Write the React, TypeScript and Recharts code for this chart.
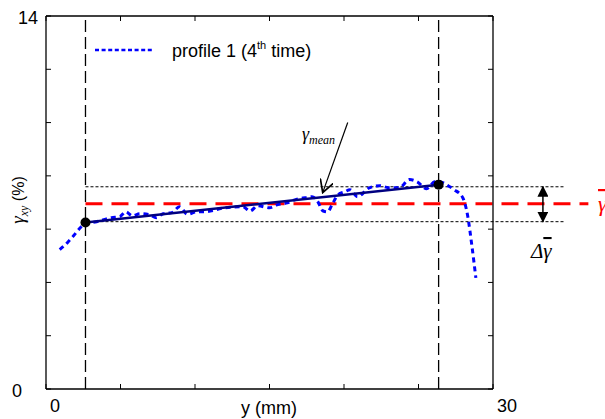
import React from 'react';
import { ComposedChart, Line, XAxis, YAxis, ReferenceLine, Customized } from 'recharts';

// ---- data ----
const profileX = [0.92, 1.45, 1.85, 2.3, 2.65, 3.4, 4.4, 4.95, 5.35, 5.8, 6.3, 6.96, 7.4, 7.85, 8.45, 8.95, 9.5, 10.1, 10.6, 12.0, 13.2, 13.7, 14.2, 15.0, 15.55, 16.2, 16.7, 17.4, 17.85, 18.2, 18.6, 18.9, 19.2, 19.6, 20.05, 20.4, 20.9, 21.7, 22.4, 23.05, 23.7, 24.4, 24.9, 25.55, 26.1, 26.4, 27.1, 27.4, 27.97, 28.3, 28.6, 28.85];
const profileY = [5.23, 5.5, 5.75, 6.05, 6.22, 6.28, 6.43, 6.47, 6.65, 6.5, 6.58, 6.54, 6.43, 6.58, 6.62, 6.84, 6.56, 6.65, 6.65, 6.8, 6.84, 6.68, 6.88, 6.8, 6.92, 6.99, 7.1, 7.18, 7.22, 7.07, 6.68, 6.65, 6.92, 7.29, 7.4, 7.48, 7.22, 7.55, 7.63, 7.55, 7.55, 7.86, 7.78, 7.52, 7.78, 7.78, 7.59, 7.48, 7.18, 6.5, 5.3, 4.17];
const meanX = [2.65, 26.35];
const meanY = [6.25, 7.67];
const xTicks = [0, 5, 10, 15, 20, 25, 30];
const yTicks = [0, 2, 4, 6, 8, 10, 12, 14];
const xTickLabels: Record<number, string> = { 0: '0', 30: '30' };
const yTickLabels: Record<number, string> = { 0: '0', 14: '14' };
const gammaBar = 6.95;
const bandY = [6.28, 7.59];
const bandEndX = 34.8;
const redEndX = 36.4;
const deltaArrowX = 33.35;
const meanArrowFrom = [20.25, 10.0];
const meanArrowTo = [18.57, 7.37];
const legendLabel = 'profile 1 (4';
const legendSup = 'th';
const legendTail = ' time)';

const profile = profileX.map((x, i) => ({ x, g: profileY[i] }));
const meanData = meanX.map((x, i) => ({ x, m: meanY[i] }));

const SANS = '"Liberation Sans", Arial, Helvetica, sans-serif';
const SERIF = '"Liberation Serif", "Times New Roman", serif';

const BottomTick = (p: any) => {
  const { x, y, payload } = p;
  const lbl = xTickLabels[payload.value];
  return (
    <g>
      <line x1={x} y1={y} x2={x} y2={y - 5} stroke="#000" strokeWidth={1} />
      {lbl && (
        <text x={x + 4} y={y + 23} fontSize={18} fontFamily={SANS} fill="#000" textAnchor="start">{lbl}</text>
      )}
    </g>
  );
};
const TopTick = (p: any) => {
  const { x, y } = p;
  return <line x1={x} y1={y} x2={x} y2={y + 5} stroke="#000" strokeWidth={1} />;
};
const LeftTick = (p: any) => {
  const { x, y, payload } = p;
  const lbl = yTickLabels[payload.value];
  const endX = payload.value === 0 ? x - 24 : x - 8;
  return (
    <g>
      <line x1={x} y1={y} x2={x + 5} y2={y} stroke="#000" strokeWidth={1} />
      {lbl && (
        <text x={endX} y={y + 8} fontSize={18} fontFamily={SANS} fill="#000" textAnchor="end">{lbl}</text>
      )}
    </g>
  );
};
const RightTick = (p: any) => {
  const { x, y } = p;
  return <line x1={x} y1={y} x2={x - 5} y2={y} stroke="#000" strokeWidth={1} />;
};

const arrowShape = (startMarker: string | undefined, endMarker: string | undefined, width: number) => (p: any) => (
  <line
    x1={p.x1}
    y1={p.y1}
    x2={p.x2}
    y2={p.y2}
    stroke="#000"
    strokeWidth={width}
    markerStart={startMarker ? `url(#${startMarker})` : undefined}
    markerEnd={endMarker ? `url(#${endMarker})` : undefined}
  />
);

const Annotations = () => (
  <g>
    {/* y axis title */}
    <text transform="translate(24,200) rotate(-90)" textAnchor="middle" fill="#000">
      <tspan fontFamily={SERIF} fontStyle="italic" fontSize={19}>γ</tspan>
      <tspan fontFamily={SERIF} fontStyle="italic" fontSize={12} dy={4}>xy</tspan>
      <tspan fontFamily={SANS} fontSize={16} dy={-4}>{'  (%)'}</tspan>
    </text>
    {/* x axis title */}
    <text x={269} y={414} textAnchor="middle" fontFamily={SANS} fontSize={18} fill="#000">y (mm)</text>
    {/* legend */}
    <line x1={95} y1={50} x2={153} y2={50} stroke="#0000ff" strokeWidth={2.5} strokeDasharray="4 2.6" />
    <text x={172} y={57} fontFamily={SANS} fontSize={18} fill="#000">
      <tspan>{legendLabel}</tspan>
      <tspan fontSize={11} dy={-8}>{legendSup}</tspan>
      <tspan dy={8}>{legendTail}</tspan>
    </text>
    {/* mean label */}
    <text x={302} y={140} fill="#000" fontFamily={SERIF} fontStyle="italic">
      <tspan fontSize={18}>γ</tspan>
      <tspan fontSize={12} dy={4}>mean</tspan>
    </text>
    {/* delta gamma label */}
    <text x={531} y={258} fill="#000" fontFamily={SERIF} fontStyle="italic" fontSize={21}>
      <tspan>Δ</tspan>
      <tspan style={{ textDecoration: 'overline' }}>γ</tspan>
    </text>
    {/* red gamma bar label (partly beyond the right edge, as in the reference) */}
    <text x={598} y={211} fill="#ff0000" fontFamily={SERIF} fontStyle="italic" fontSize={22} style={{ textDecoration: 'overline' }}>γ</text>
  </g>
);

export default function App() {
  return (
    <div style={{ position: 'fixed', left: 0, top: 0, width: 605, height: 419, background: '#fff' }}>
      <svg width={0} height={0} style={{ position: 'absolute' }}>
        <defs>
          <marker id="openArrow" viewBox="0 0 10 10" refX={9} refY={5} markerWidth={14} markerHeight={14} markerUnits="userSpaceOnUse" orient="auto">
            <path d="M0,0 L9,5 L0,10" fill="none" stroke="#000" strokeWidth={1.2} />
          </marker>
          <marker id="solidEnd" viewBox="0 0 10 10" refX={9} refY={5} markerWidth={11} markerHeight={11} markerUnits="userSpaceOnUse" orient="auto">
            <path d="M0,0 L10,5 L0,10 z" fill="#000" />
          </marker>
          <marker id="solidStart" viewBox="0 0 10 10" refX={1} refY={5} markerWidth={11} markerHeight={11} markerUnits="userSpaceOnUse" orient="auto">
            <path d="M10,0 L0,5 L10,10 z" fill="#000" />
          </marker>
        </defs>
      </svg>
      <ComposedChart width={605} height={419} margin={{ top: 15, right: 111, bottom: 29, left: 45 }}>
        <XAxis xAxisId={0} type="number" dataKey="x" domain={[0, 30]} ticks={xTicks} height={1} tickSize={0} tickMargin={0}
          axisLine={{ stroke: '#000', strokeWidth: 1.3 }} tickLine={false} tick={BottomTick} interval={0} allowDataOverflow />
        <XAxis xAxisId="top" orientation="top" type="number" dataKey="x" domain={[0, 30]} ticks={xTicks} height={1} tickSize={0} tickMargin={0}
          axisLine={{ stroke: '#000', strokeWidth: 1.3 }} tickLine={false} tick={TopTick} interval={0} allowDataOverflow />
        <YAxis yAxisId={0} type="number" domain={[0, 14]} ticks={yTicks} width={1} tickSize={0} tickMargin={0}
          axisLine={{ stroke: '#000', strokeWidth: 1.3 }} tickLine={false} tick={LeftTick} interval={0} allowDataOverflow />
        <YAxis yAxisId="right" orientation="right" type="number" domain={[0, 14]} ticks={yTicks} width={1} tickSize={0} tickMargin={0}
          axisLine={{ stroke: '#000', strokeWidth: 1.3 }} tickLine={false} tick={RightTick} interval={0} allowDataOverflow />

        <ReferenceLine x={meanX[0]} stroke="#000" strokeWidth={1.3} strokeDasharray="12 5" />
        <ReferenceLine x={meanX[1]} stroke="#000" strokeWidth={1.3} strokeDasharray="12 5" />
        <ReferenceLine segment={[{ x: meanX[0], y: bandY[1] }, { x: bandEndX, y: bandY[1] }]} stroke="#000" strokeWidth={1} strokeDasharray="3 2" ifOverflow="visible" />
        <ReferenceLine segment={[{ x: meanX[0], y: bandY[0] }, { x: bandEndX, y: bandY[0] }]} stroke="#000" strokeWidth={1} strokeDasharray="3 2" ifOverflow="visible" />
        <ReferenceLine segment={[{ x: meanX[0], y: gammaBar }, { x: redEndX, y: gammaBar }]} stroke="#ff0000" strokeWidth={3} strokeDasharray="17 9" ifOverflow="visible" />
        <ReferenceLine segment={[{ x: deltaArrowX, y: bandY[1] }, { x: deltaArrowX, y: bandY[0] }]} ifOverflow="visible"
          shape={arrowShape('solidStart', 'solidEnd', 1.5)} />
        <ReferenceLine segment={[{ x: meanArrowFrom[0], y: meanArrowFrom[1] }, { x: meanArrowTo[0], y: meanArrowTo[1] }]} ifOverflow="visible"
          shape={arrowShape(undefined, 'openArrow', 1.2)} />

        <Line data={profile} dataKey="g" type="monotone" stroke="#0000ff" strokeWidth={3} strokeDasharray="5 4" dot={false} isAnimationActive={false} />
        <Line data={meanData} dataKey="m" type="linear" stroke="#000080" strokeWidth={2.5} dot={{ r: 5, fill: '#000', stroke: '#000', strokeWidth: 0 }} isAnimationActive={false} />
        <Customized component={Annotations} />
      </ComposedChart>
    </div>
  );
}
